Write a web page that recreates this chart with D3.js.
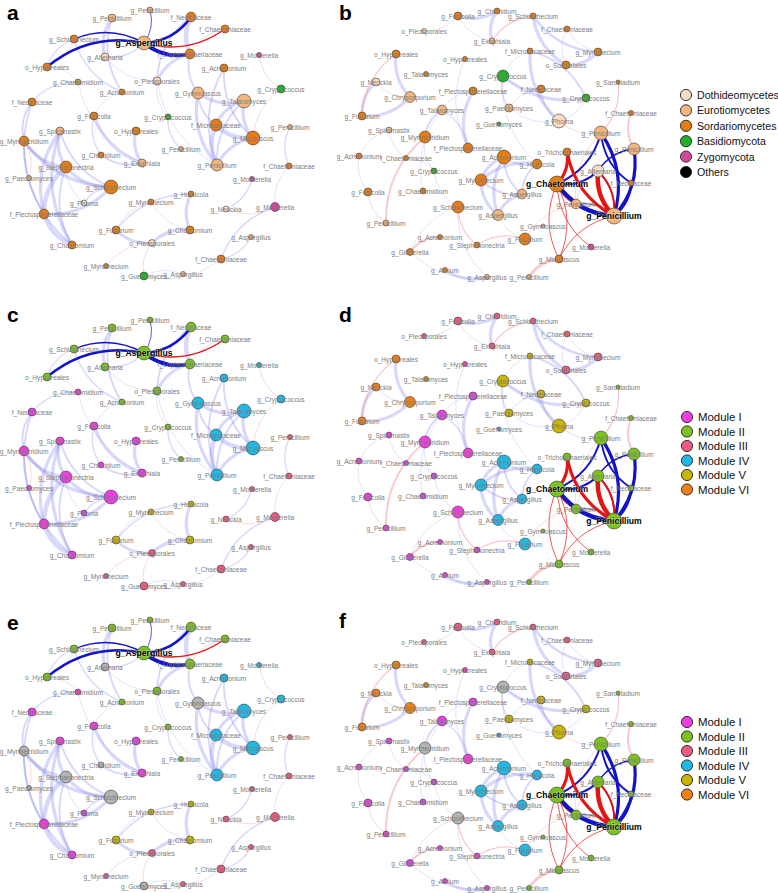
<!DOCTYPE html>
<html><head><meta charset="utf-8">
<script src="https://cdn.jsdelivr.net/npm/d3@7"></script>
<style>body{margin:0;background:#fff}svg{display:block}text{font-family:"Liberation Sans",Arial,Helvetica,sans-serif}</style>
</head><body><svg id="chart" width="778" height="893"></svg>
<script>
// ---------- LEFT NETWORK (panels a, c, e) ----------
const leftLabels = ["g_Penicillium","g_Penicillium","f_Nectriaceae","f_Chaetomiaceae","g_Aspergillus","f_Lophiosphaeriaceae","g_Schizothecium","g_Alternaria","o_Hypocreales","g_Chaetomidium",
"g_Acremonium","o_Pleosporales","g_Mortierella","g_Acremonium","g_Gymnoascus","g_Cryptococcus","g_Talaromyces","f_Nectriaceae","g_Fusicolla","g_Cryptococcus",
"o_Hypocreales","f_Microascaceae","g_Penicillium","g_Spiromastix","g_Myrmecridium","g_Microascus","g_Penicillium","g_Chloridium","g_Exophiala","g_Penicillium",
"f_Chaetomiaceae","g_Stephanonectria","g_Paecilomyces","g_Mortierella","g_Schizothecium","g_Humicola","g_Myrothecium","g_Phoma","g_Neockia","g_Mortierella",
"f_Plectosphaerellaceae","g_Fusarium","g_Chaetomium","g_Aspergillus","g_Chaetomium","o_Pleosporales","f_Chaetomiaceae","g_Myrothecium","g_Guehomyces","g_Aspergillus"];
const leftLayoutX = [150,112,191,225,144,190,74,105,47,78, 122,157,259,224,198,281,244,32,94,168, 136,216,290,60,24,253,181,101,142,217, 289,66,29,252,111,191,151,84,226,275, 44,116,190,251,72,152,221,106,144,183];
const leftLayoutY = [10,18,17,29,43,54,39,57,67,82, 92,81,55,68,93,89,101,102,116,117, 131,125,127,131,141,138,149,155,163,165, 166,167,178,179,187,194,202,203,209,207, 214,230,230,237,245,243,259,266,276,274];
const leftDegree = [2.2,4,6,4,12,6,4,4,4,2.2, 2.2,4,1.6,4,9,4,12,4,4,2.2, 4,9,1.6,4,6,12,1.6,2.2,4,9, 2.2,9,1.6,1.6,12,2.2,2.2,2.2,2.2,5, 6,4,4,1.6,4,3,4,1.6,4,1.6];
const leftPhylum = ["Euro","Euro","Sord","Sord","Euro","Sord","Sord","Doth","Sord","Unk",
"Sord","Doth","Zygo","Sord","Euro","Basi","Euro","Sord","Sord","Basi",
"Sord","Sord","Euro","Euro","Sord","Sord","Euro","Sord","Euro","Euro",
"Sord","Sord","Euro","Zygo","Sord","Sord","Sord","Doth","Doth","Zygo",
"Sord","Sord","Sord","Euro","Sord","Doth","Sord","Sord","Basi","Euro"];
const leftModule = ["II","II","II","II","II","II","II","II","II","I",
"II","II","IV","IV","IV","IV","IV","I","I","II",
"I","IV","III","I","I","IV","II","I","I","IV",
"III","I","I","III","I","V","V","I","III","III",
"I","V","V","III","I","III","III","III","III","III"];
const leftGrayE = [7,14,24,27,31,32,34,48];
// edges: [source, target, type, weight]  P strong +, N strong -, p weak +, n weak -
const leftEdges = [
[1,7,"p",3],[1,10,"p",2],[2,5,"p",4],[2,11,"p",2],[5,11,"p",3],[5,14,"p",2],[6,10,"p",1.5],[8,6,"p",1],[9,17,"p",1.5],[9,28,"p",1],
[7,11,"p",1],[13,25,"p",2],[13,29,"p",2],[14,16,"p",3],[14,21,"p",2],[14,29,"p",3],[16,21,"p",3],[16,25,"p",3],[16,29,"p",2],[21,25,"p",4],
[21,29,"p",4],[25,29,"p",3],[12,15,"n",1],[15,25,"n",1],[22,30,"p",1.5],[30,39,"p",1],[17,24,"p",2],[17,40,"p",2],[18,28,"p",3],[18,27,"p",1.5],
[20,28,"p",3],[27,28,"p",2],[19,26,"p",1.5],[23,31,"p",3],[23,40,"p",3],[23,44,"p",3],[23,34,"p",2],[24,31,"p",3],[24,34,"p",3],[24,44,"p",2],
[31,40,"p",4],[31,34,"p",3],[31,44,"p",2],[31,37,"p",1],[40,34,"p",3],[40,44,"p",4],[34,37,"p",1.5],[32,24,"n",1],[35,41,"p",1.5],[35,42,"p",3],
[36,41,"p",1],[36,42,"p",1],[41,45,"p",3],[42,45,"p",3],[45,47,"n",1],[45,48,"n",1],[48,46,"p",1],[38,33,"p",1.5],[38,39,"n",1],[39,46,"p",1.5],
[46,43,"p",1.5],[49,48,"p",1],[11,29,"p",1],[3,5,"n",1],[9,8,"p",1],[6,8,"p",1.5],[10,18,"p",1],[11,19,"p",1],[7,4,"p",1.5],
[4,8,"P",2.5],[4,6,"P",1.5],[4,0,"P",1],[4,2,"P",2.5],[4,5,"P",3.5],[4,3,"N",1.5]];

// ---------- RIGHT NETWORK (panels b, d, f) ----------
const rightLabels = ["g_Fusicolla","g_Chloridium","g_Schizothecium","o_Pleosporales","f_Chaetomiaceae","g_Exophiala","f_Microascaceae","g_Myrothecium","o_Hypocreales","o_Hypocreales",
"o_Sordariales","g_Talaromyces","g_Cryptococcus","g_Neockia","g_Chrysosporium","f_Plectosphaerellaceae","f_Nectriaceae","g_Sarocladium","g_Cryptococcus","g_Fusarium",
"g_Talaromyces","g_Paecilomyces","g_Phoma","g_Guehomyces","g_Spiromastix","g_Myrmecridium","g_Penicillium","f_Chaetomiaceae","g_Penicillium","o_Trichosphaeriales",
"g_Alternaria","f_Nectriaceae","g_Chaetomium","g_Penicillium","f_Plectosphaerellaceae","g_Acremonium","f_Chaetomiaceae","g_Acremonium","g_Humicola","g_Cryptococcus",
"g_Myrothecium","g_Fusicolla","g_Chaetomidium","g_Aspergillus","g_Penicillium","g_Schizothecium","g_Aspergillus","g_Penicillium","g_Gymnoascus","g_Fusarium",
"g_Acremonium","g_Stephanonectria","g_Mortierella","g_Gibberella","g_Microascus","g_Arxium","g_Aspergillus","g_Penicillium"];
const rightLayoutX = [128,167,203,94,237,162,200,268,66,135, 236,96,173,46,80,143,211,288,256,32, 112,179,229,169,59,95,271,301,304,237, 268,301,227,284,138,29,76,174,207,104, 151,38,93,192,246,128,168,56,213,195, 110,147,261,80,229,115,157,199];
const rightLayoutY = [16,11,16,31,29,41,51,52,54,59, 65,74,76,82,97,91,89,82,98,116, 110,108,121,124,130,137,133,113,149,152, 171,183,184,216,148,156,158,157,164,171, 180,192,191,194,204,207,215,223,226,239, 237,245,247,252,259,270,277,277];
const rightDegree = [4,2.2,2.2,1.6,2.2,2.2,2.2,4,4,1.6, 4,1.6,9,4,7.5,4,4,1,4,4, 6,4,12,1,2.2,9,12,1.6,9,4, 9,2.2,16,16,6,2.2,1.6,12,6,2.2, 9,4,2.2,6,6,9,7.5,2.2,1,9, 1.6,2.2,2.2,3,4,1.6,1.6,1.6];
const rightPhylum = ["Sord","Sord","Sord","Doth","Sord","Euro","Sord","Sord","Sord","Sord",
"Sord","Sord","Basi","Doth","Euro","Sord","Sord","Sord","Basi","Sord",
"Euro","Euro","Doth","Basi","Euro","Sord","Euro","Sord","Euro","Sord",
"Doth","Sord","Sord","Euro","Sord","Sord","Sord","Sord","Sord","Basi",
"Sord","Sord","Sord","Euro","Euro","Sord","Euro","Euro","Euro","Sord",
"Sord","Sord","Zygo","Sord","Sord","Sord","Euro","Euro"];
const rightModule = ["III","III","III","III","III","III","V","III","VI","I",
"III","VI","V","VI","VI","I","V","II","V","VI",
"I","V","V","IV","I","I","II","II","II","II",
"II","II","II","II","I","I","I","IV","IV","I",
"IV","I","I","IV","II","I","IV","I","II","IV",
"I","I","II","I","II","I","I","II"];
const rightGrayF = [12,25,45];
const rightEdges = [
[0,1,"p",3],[1,5,"p",3],[0,5,"p",1],[2,10,"p",3],[2,7,"p",2.5],[4,7,"p",1],[4,10,"p",1],[10,7,"p",3],[8,14,"p",3],[13,14,"p",1],
[19,14,"p",3],[13,19,"p",3],[3,0,"p",1],[6,12,"p",1],[6,22,"p",3],[12,18,"p",3],[12,16,"p",1],[12,21,"p",1.5],[16,22,"p",1.5],[16,21,"p",1],
[21,22,"p",1],[15,34,"p",3],[15,20,"p",1],[20,25,"p",2],[20,42,"p",1],[24,35,"p",1],[24,36,"p",1],[25,39,"p",1],[37,40,"p",3],[37,38,"p",1.5],
[37,43,"p",2],[37,46,"p",3],[38,40,"p",3],[40,46,"p",3],[40,43,"p",2],[43,46,"p",3],[38,43,"p",2],[46,49,"p",1],[45,53,"p",1],[53,56,"p",1],
[55,56,"p",3],[9,34,"p",1],[39,36,"p",1],[35,41,"p",1],[22,18,"p",1],[18,6,"p",2],[12,38,"p",1],[45,56,"p",1],[34,20,"p",1.5],[39,45,"p",1],
[26,17,"n",1.5],[27,28,"n",2],[54,57,"n",3],[49,51,"n",1.5],[45,51,"n",1.5],[2,5,"n",1.5],[8,19,"n",1.5],[25,47,"n",2],[50,53,"n",2],[44,49,"n",1],
[26,44,"n",1],[22,26,"n",1],[41,47,"n",1],[30,44,"n",1],
[32,33,"P",4],[32,26,"P",2],[32,30,"P",2],[33,26,"P",3],[33,28,"P",3],[33,31,"P",2],[33,30,"P",1.5],[33,44,"P",1],[26,31,"P",2],[28,30,"P",1.5],
[32,29,"N",3],[29,33,"N",3],[30,33,"N",4],[33,30,"N",2],[32,52,"N",1],[32,54,"N",1],[54,32,"N",1],[33,54,"N",1],[32,44,"N",1]];

// ---------- LEGENDS ----------
const phylumNames = ["Dothideomycetes","Eurotiomycetes","Sordariomycetes","Basidiomycota","Zygomycota","Others"];
const phylumKeys = ["Doth","Euro","Sord","Basi","Zygo","Oth"];
const moduleNames = ["Module I","Module II","Module III","Module IV","Module V","Module VI"];
const moduleKeys = ["I","II","III","IV","V","VI"];

// ---------- STYLE ----------
const phylumColor = d3.scaleOrdinal().domain(["Doth","Euro","Sord","Basi","Zygo","Oth","Unk"])
  .range(["#f8dcc4","#f5b57c","#e87c14","#22b026","#d4489c","#000000","#bba63c"]);
const moduleColor = d3.scaleOrdinal().domain(["I","II","III","IV","V","VI","X"])
  .range(["#ee3ee0","#7cc21c","#ef5a80","#22b8e6","#c9b600","#f08016","#b4b4b4"]);
const rScale = d3.scaleSqrt().domain([0,16]).range([0,8]);
const wScale = d3.scaleLinear().domain([1,4]).range([0.7,4.4]);
const edgeStyle = {
  p:{c:"#7e7ef0",o:0.3},
  n:{c:"#f08a8a",o:0.45},
  P:{c:"#1212c8",o:1},
  N:{c:"#e41414",o:1}
};

const svg = d3.select("#chart");

function drawPanel(opts){
  const {ox, oy, labels, lx, ly, deg, edges, colorOf, bold} = opts;
  const xs = d3.scaleLinear().domain([0,300]).range([ox, ox+300]);
  const ys = d3.scaleLinear().domain([0,300]).range([oy, oy+300]);
  const g = svg.append("g");
  const order = {p:0,n:1,P:2,N:3};
  const sorted = edges.slice().sort((a,b)=>order[a[2]]-order[b[2]]);
  g.append("g").selectAll("path").data(sorted).join("path")
    .attr("d", e=>{
      const x1=xs(lx[e[0]]), y1=ys(ly[e[0]]), x2=xs(lx[e[1]]), y2=ys(ly[e[1]]);
      const mx=(x1+x2)/2, my=(y1+y2)/2, dx=x2-x1, dy=y2-y1;
      const k=0.24;
      return `M${x1},${y1}Q${mx-dy*k},${my+dx*k} ${x2},${y2}`;
    })
    .attr("fill","none")
    .attr("stroke", e=>edgeStyle[e[2]].c)
    .attr("stroke-opacity", e=>edgeStyle[e[2]].o)
    .attr("stroke-width", e=>wScale(e[3]));
  const idx = d3.range(labels.length);
  g.append("g").selectAll("circle").data(idx).join("circle")
    .attr("cx", i=>xs(lx[i])).attr("cy", i=>ys(ly[i]))
    .attr("r", i=>rScale(deg[i]))
    .attr("fill", i=>colorOf(i))
    .attr("stroke","#3a3a3a").attr("stroke-width",0.6);
  g.append("g").selectAll("text").data(idx.filter(i=>!bold.includes(i))).join("text")
    .attr("x", i=>xs(lx[i])).attr("y", i=>ys(ly[i]))
    .attr("text-anchor","middle").attr("dominant-baseline","central")
    .attr("font-size",6.6).attr("fill","#7d7d7d")
    .text(i=>labels[i]);
  g.append("g").selectAll("text").data(bold).join("text")
    .attr("x", i=>xs(lx[i])).attr("y", i=>ys(ly[i]))
    .attr("text-anchor","middle").attr("dominant-baseline","central")
    .attr("font-size",8.6).attr("font-weight","bold").attr("fill","#000")
    .attr("stroke","#fff").attr("stroke-width",0.4).attr("paint-order","stroke")
    .text(i=>labels[i]);
}

function panelLetter(x,y,t){
  svg.append("text").attr("x",x).attr("y",y).attr("font-size",21).attr("font-weight","bold").text(t);
}

function legend(x, y0, names, keys, scale, step, fs){
  const g = svg.append("g");
  names.forEach((n,i)=>{
    g.append("circle").attr("cx",x).attr("cy",y0+i*step).attr("r",5.6)
      .attr("fill",scale(keys[i])).attr("stroke","#222").attr("stroke-width",0.9);
    g.append("text").attr("x",x+11).attr("y",y0+i*step).attr("dominant-baseline","central")
      .attr("font-size",fs).attr("fill","#111").text(n);
  });
}

const leftOY = [0,310,610];
const rightOY = [0,305,611];

// a
drawPanel({ox:0, oy:leftOY[0], labels:leftLabels, lx:leftLayoutX, ly:leftLayoutY, deg:leftDegree, edges:leftEdges,
  colorOf:i=>phylumColor(leftPhylum[i]), bold:[4]});
// c
drawPanel({ox:0, oy:leftOY[1], labels:leftLabels, lx:leftLayoutX, ly:leftLayoutY, deg:leftDegree, edges:leftEdges,
  colorOf:i=>moduleColor(leftModule[i]), bold:[4]});
// e
drawPanel({ox:0, oy:leftOY[2], labels:leftLabels, lx:leftLayoutX, ly:leftLayoutY, deg:leftDegree, edges:leftEdges,
  colorOf:i=>moduleColor(leftGrayE.includes(i)?"X":leftModule[i]), bold:[4]});
// b
drawPanel({ox:330, oy:rightOY[0], labels:rightLabels, lx:rightLayoutX, ly:rightLayoutY, deg:rightDegree, edges:rightEdges,
  colorOf:i=>phylumColor(rightPhylum[i]), bold:[32,33]});
// d
drawPanel({ox:330, oy:rightOY[1], labels:rightLabels, lx:rightLayoutX, ly:rightLayoutY, deg:rightDegree, edges:rightEdges,
  colorOf:i=>moduleColor(rightModule[i]), bold:[32,33]});
// f
drawPanel({ox:330, oy:rightOY[2], labels:rightLabels, lx:rightLayoutX, ly:rightLayoutY, deg:rightDegree, edges:rightEdges,
  colorOf:i=>moduleColor(rightGrayF.includes(i)?"X":rightModule[i]), bold:[32,33]});

panelLetter(7,20,"a"); panelLetter(339,20,"b");
panelLetter(7,322,"c"); panelLetter(339,322,"d");
panelLetter(7,630,"e"); panelLetter(339,628,"f");

legend(686, 95, phylumNames, phylumKeys, phylumColor, 15.4, 10.6);
legend(687, 417, moduleNames, moduleKeys, moduleColor, 14.5, 11.4);
legend(687, 722, moduleNames, moduleKeys, moduleColor, 14.5, 11.4);
</script></body></html>
